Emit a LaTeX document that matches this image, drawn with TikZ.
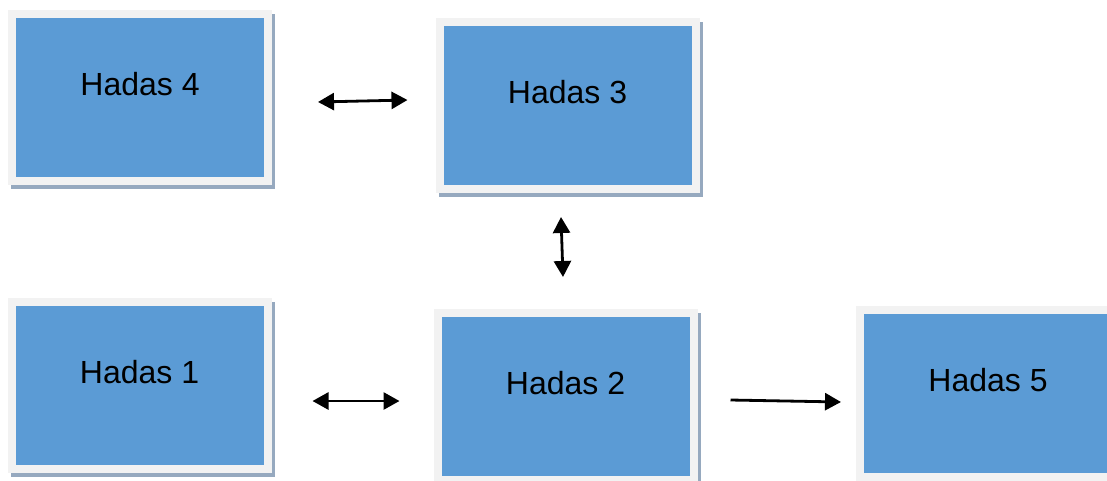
\documentclass[tikz,border=0pt]{standalone}
\usepackage{fontspec}
\setmainfont{Liberation Sans}
\usetikzlibrary{arrows.meta}

\definecolor{hadasblue}{HTML}{5B9BD5}
\definecolor{hadasframe}{HTML}{F2F2F2}
\definecolor{hadasshadow}{HTML}{96A9BF}

\tikzset{
	hadas/.style={rectangle, inner sep=0pt, minimum width=256pt, minimum height=167pt,
		fill=hadasblue, draw=hadasframe, line width=8pt,
		preaction={draw=hadasshadow, fill=hadasshadow, transform canvas={shift={(3pt,-4pt)}}},
		label={[font=\fontsize{32}{38}\selectfont, yshift=13pt]center:#1}},
	tip/.tip={Triangle[length=16pt 0 0, width=17pt 0 0]},
	link/.style={line width=2.8pt, -tip},
	dlink/.style={line width=2.8pt, tip-tip}
}

\begin{document}
\begin{tikzpicture}[x=1pt, y=-1pt]
			%%%%% START %%%%%
			\useasboundingbox (0, 0) rectangle (1107, 480);
			\clip (0, 0) rectangle (1107, 480);
			
			\node[hadas={Hadas 4}] (h4) at (140, 97.5) {};
			\node[hadas={Hadas 3}] (h3) at (567.5, 105.5) {};
			\node[hadas={Hadas 1}] (h1) at (139.5, 385) {};
			\node[hadas={Hadas 2}] (h2) at (565.5, 396.5) {};
			\node[hadas={Hadas 5}] (h5) at (988, 393) {};
			
			\draw[dlink] ([xshift=46pt, yshift=-4.5pt]h4.east) -- ([xshift=-28pt, yshift=5.5pt]h3.west);
			\draw[dlink] ([xshift=-6.5pt, yshift=-24pt]h3.south) -- ([xshift=-2.5pt, yshift=32pt]h2.north);
			\draw[dlink] ([xshift=41pt, yshift=-16pt]h1.east) -- ([xshift=-34pt, yshift=-4.5pt]h2.west);
			\draw[link] ([xshift=33pt, yshift=-3.5pt]h2.east) -- ([xshift=-15pt, yshift=-9pt]h5.west);
			
			%%%%% END %%%%%
\end{tikzpicture}
\end{document}
